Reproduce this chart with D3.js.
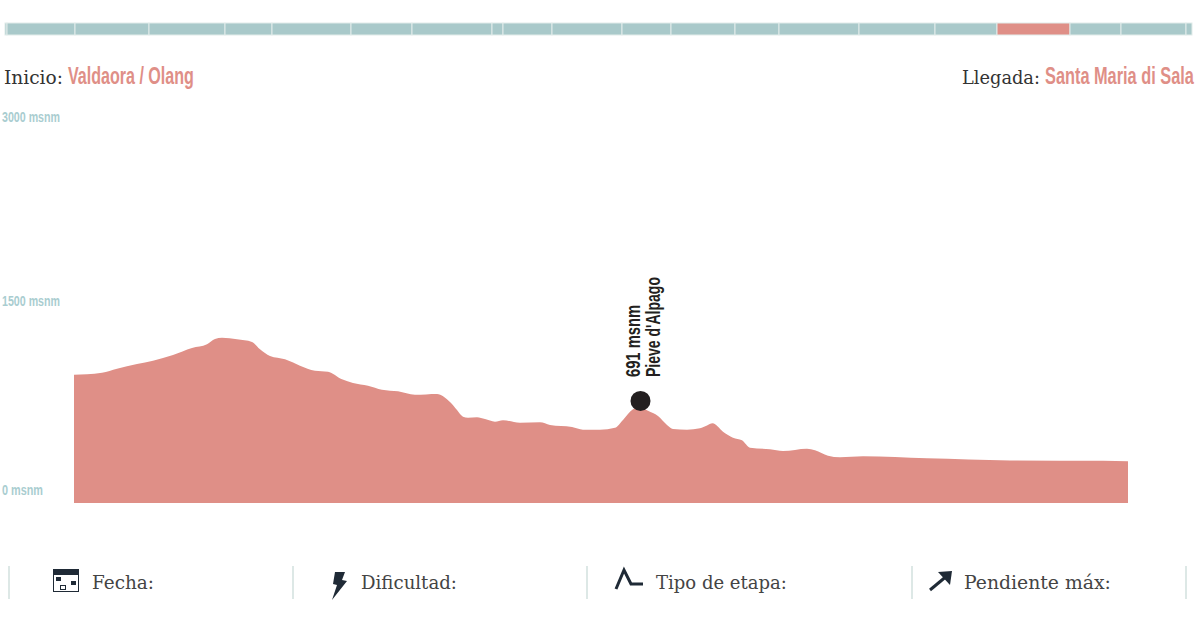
<!DOCTYPE html>
<html>
<head>
<meta charset="utf-8">
<script src="https://cdn.jsdelivr.net/npm/d3@7"></script>
<style>
  html, body { margin: 0; padding: 0; background: #fff; }
  svg { display: block; }
</style>
</head>
<body>
<script>
// stage lengths for the top strip, read from the divider positions
var stageLengths = [2, 68, 74, 76, 47, 79, 61, 80, 11, 49, 70, 49, 64, 44, 80, 76, 62, 73, 51, 65, 6];
var activeStage = 17;

// profile of the stage
var profileKm = [0, 2.6, 5.6, 8.6, 12.6, 15.8, 19.8, 23.6, 26.6, 28.2, 29.6, 32.6, 35.6, 37.2, 39.2, 42.2, 45.2, 48.2, 50.8, 53.6, 55.8, 58.8, 61.6, 64.8, 68.2, 72.6, 75.2, 76.6, 77.8, 78.8, 80.6, 82.2, 84.2, 85.8, 89.2, 93.2, 95.2, 99.6, 101.8, 105.2, 108.2, 109.8, 111.8, 113.2, 114.8, 116.8, 118.6, 119.8, 122.6, 125.2, 126.6, 127.7, 129.8, 131.8, 133.6, 135.2, 139.2, 141.8, 146.6, 148.2, 150.8, 153.2, 157.8, 170.6, 187.2, 205.8, 210.8];
var profileMsnm = [915, 918, 931, 963, 1000, 1026, 1071, 1127, 1156, 1198, 1209, 1196, 1175, 1117, 1063, 1037, 987, 947, 939, 879, 849, 828, 796, 783, 756, 762, 698, 635, 582, 574, 577, 563, 542, 553, 534, 537, 516, 500, 479, 479, 494, 556, 640, 659, 629, 587, 516, 484, 479, 490, 512, 529, 463, 415, 394, 336, 323, 310, 328, 315, 272, 260, 267, 251, 235, 232, 228];

var tickValues = [0, 1500, 3000];
var peakKm = 113.2;
var peakMsnm = 691;
var peakName = "Pieve d'Alpago";

var startLabel = "Inicio:", startName = "Valdaora / Olang";
var endLabel = "Llegada:", endName = "Santa Maria di Sala";
var footerLabels = ["Fecha:", "Dificultad:", "Tipo de etapa:", "Pendiente máx:"];
var footerTextX = [92, 361, 656, 964];
var footerTextW = [62, 96, 131, 147];
var separatorX = [9, 293, 587, 912, 1186];

var width = 1200, height = 637;
var slab = "'DejaVu Serif', serif";
var narrow = "'Liberation Sans Narrow', 'Liberation Sans', sans-serif";
var salmon = "#df8f87", teal = "#a9c9ca", ink = "#1f2a36";

var svg = d3.select("body").append("svg")
    .attr("width", width)
    .attr("height", height);

// squeeze a text into the width it has in the reference
function label(px, py, txt, w, size, font, color, weight) {
  var t = svg.append("text")
      .style("font-family", font)
      .style("font-size", size + "px")
      .style("font-weight", weight || "normal")
      .style("fill", color)
      .text(txt);
  var sx = w / t.node().getComputedTextLength();
  t.attr("transform", "translate(" + px + "," + py + ") scale(" + sx + ",1)");
  return t;
}

// 1. top strip
var cum = d3.cumsum(stageLengths);
var stripX = d3.scaleLinear().domain([0, cum[cum.length - 1]]).range([5, 1192]);

svg.append("g").selectAll("rect")
    .data(stageLengths)
  .enter().append("rect")
    .attr("x", function(d, i) { return stripX(i ? cum[i - 1] : 0); })
    .attr("y", 23)
    .attr("width", function(d, i) { return stripX(cum[i]) - stripX(i ? cum[i - 1] : 0); })
    .attr("height", 12)
    .attr("fill", function(d, i) { return i === activeStage ? salmon : teal; })
    .attr("stroke", "#e2ecea")
    .attr("stroke-width", 1);

// 2. start and end
label(4, 84, startLabel, 59, 19, slab, "#333");
label(68, 84, startName, 126, 24, narrow, salmon, "bold");
label(962, 84, endLabel, 78, 19, slab, "#333");
label(1045, 84, endName, 149, 24, narrow, salmon, "bold");

// 3. scales, the labels are not evenly spaced in the original
var x = d3.scaleLinear().domain([0, 210.8]).range([74, 1128]);
var y = d3.scaleLinear().domain(tickValues).range([490, 301, 117]);
var plotBottom = 503;

var area = d3.area()
    .x(function(d, i) { return x(profileKm[i]); })
    .y0(plotBottom)
    .y1(function(d) { return y(d); })
    .curve(d3.curveMonotoneX);

svg.append("path")
    .datum(profileMsnm)
    .attr("d", area)
    .attr("fill", salmon);

// 4. y axis, only the labels show
var axis = svg.append("g")
    .attr("transform", "translate(2,0)")
    .call(d3.axisLeft(y).tickValues(tickValues).tickSize(0).tickFormat(function(d) { return d + " msnm"; }));
axis.select(".domain").remove();
axis.selectAll("text")
    .attr("x", 0)
    .attr("text-anchor", "start")
    .attr("textLength", function(d) { return d ? 58 : 41; })
    .attr("lengthAdjust", "spacingAndGlyphs")
    .style("font-family", narrow)
    .style("font-size", "15px")
    .style("font-weight", "bold")
    .style("fill", "#a9cdd0");

// 5. highest point
svg.append("circle")
    .attr("cx", x(peakKm) + 0.5)
    .attr("cy", y(peakMsnm) - 2)
    .attr("r", 10)
    .attr("fill", "#231f20");

function upright(px, txt, len) {
  svg.append("text")
      .attr("transform", "translate(" + px + ",377) rotate(-90)")
      .attr("textLength", len)
      .attr("lengthAdjust", "spacingAndGlyphs")
      .style("font-family", narrow)
      .style("font-size", "21px")
      .style("font-weight", "bold")
      .style("fill", "#231f20")
      .text(txt);
}
upright(639.5, peakMsnm + " msnm", 72);
upright(660, peakName, 100);

// 6. footer
svg.append("g").selectAll("rect")
    .data(separatorX)
  .enter().append("rect")
    .attr("x", function(d) { return d - 1; })
    .attr("y", 566)
    .attr("width", 2)
    .attr("height", 33)
    .attr("fill", "#dde8e6");

footerLabels.forEach(function(d, i) {
  label(footerTextX[i], 589, d, footerTextW[i], 19, slab, "#444");
});

// calendar icon
var cal = svg.append("g").attr("fill", ink);
cal.append("rect").attr("x", 53.5).attr("y", 569.5).attr("width", 25).attr("height", 22)
    .attr("fill", "#fff").attr("stroke", ink);
cal.append("rect").attr("x", 53).attr("y", 569).attr("width", 26).attr("height", 6);
cal.append("rect").attr("x", 56).attr("y", 577).attr("width", 5).attr("height", 4);
cal.append("rect").attr("x", 71).attr("y", 581).attr("width", 5).attr("height", 4);
cal.append("rect").attr("x", 60.5).attr("y", 585.5).attr("width", 5).attr("height", 4)
    .attr("fill", "#fff").attr("stroke", ink);

// bolt, peak and arrow icons
svg.append("path")
    .attr("d", "M335,572L345,572L342,580L347,581L332,600L337,585L333,584Z")
    .attr("fill", ink);
svg.append("path")
    .attr("d", "M616,589L624,570L631,584L643,584")
    .attr("fill", "none").attr("stroke", ink).attr("stroke-width", 3);
svg.append("path")
    .attr("d", "M930,590L948,575")
    .attr("fill", "none").attr("stroke", ink).attr("stroke-width", 3);
svg.append("path")
    .attr("d", "M938,572L952,571L950,585Z")
    .attr("fill", ink);
</script>
</body>
</html>
